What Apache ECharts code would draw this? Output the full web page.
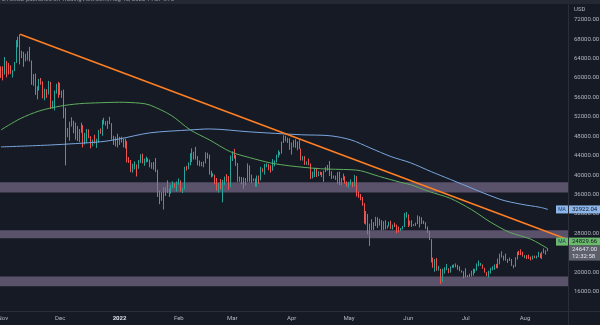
<!DOCTYPE html>
<html>
<head>
<meta charset="utf-8">
<script src="https://cdn.jsdelivr.net/npm/echarts/dist/echarts.min.js"></script>
<style>
html, body { margin: 0; padding: 0; background: #161a25; }
#c { width: 600px; height: 325px; }
</style>
</head>
<body>
<div id="c"></div>
<script>
// Daily BTC/USD candles: each row is [close, low, high]; open is the prior close.
const firstOpen = 61850;
const oct21 = [[61300, 60000, 62400]];
const nov21 = [
  [61000,59500,62400],[63200,60700,64300],[62900,60100,63500],[61400,60700,63100],[61000,60800,62600],
  [61500,60100,61600],[63300,61400,63300],[67500,63100,67800],[66900,66300,68500],[64900,62800,69000],
  [64800,64100,65600],[64150,62300,65400],[64400,63400,65000],[65500,63600,65500],[63600,63400,66400],
  [60100,58600,63600],[60350,58400,60800],[56900,56500,60900],[58100,55600,58300],[59700,57400,59800],
  [58700,58600,60000],[56300,55800,59300],[57550,55400,57800],[57150,55900,57700],[58950,56600,59400],
  [53700,53600,59200],[54750,53700,55300],[57300,53300,57400],[57800,56800,58800],[56950,55900,59200]
];
const dec21 = [
  [57200,56500,59000],[56500,55900,57400],[53600,51700,57600],[49200,42000,53900],[49400,47800,49700],
  [50600,47100,51000],[50600,50000,51900],[50500,48600,51200],[47600,47300,50800],[47150,47000,50100],
  [49400,46800,49500],[50100,48700,50800],[46700,45700,50300],[48400,46300,48700],[48900,46600,49500],
  [47650,47600,49400],[46200,45500,48000],[46900,45900,47300],[46700,46500,48300],[46900,45600,47500],
  [49000,46700,49300],[48600,48500,49600],[50800,48100,51400],[50400,50400,51800],[50800,50200,51100],
  [50700,49500,51200],[50700,50500,52000],[47500,47300,50700],[46450,46200,48100],[47150,45900,47900],
  [46200,45700,48500]
];
const jan22 = [
  [47700,46200,47900],[47300,46700,47900],[46450,45700,47500],[45800,45500,47500],[43400,42600,47000],
  [43100,42500,43700],[41550,40600,43100],[41700,40500,42300],[41850,41200,42800],[41800,39700,42200],
  [42750,41300,43100],[43900,42500,44300],[42600,42400,44400],[43100,41900,43400],[43100,42600,43800],
  [43100,42700,43500],[42200,41600,43200],[42350,41300,42600],[41700,41100,42700],[40700,40600,43500],
  [36450,35500,41100],[35050,34000,36800],[36250,34700,36500],[36650,32900,37500],[36950,35700,37500],
  [36850,36300,38900],[37150,35500,37200],[37750,36200,38000],[38150,37300,38700],[37900,37400,38300],
  [38500,36600,38700]
];
const feb22 = [
  [38700,38000,39300],[36900,36600,38900],[37300,36300,37400],[41550,37000,41700],[41400,40900,41900],
  [42400,41200,42600],[43850,42000,44500],[44100,42700,45500],[44350,43200,44800],[43550,43200,45800],
  [42400,42000,43900],[42200,41800,43000],[42050,41800,42700],[42550,41600,42800],[44550,42400,44700],
  [43900,43400,44600],[40550,40100,44200],[40000,39500,40900],[40100,39700,40400],[38400,38100,40100],
  [37050,36800,39400],[38250,36400,38400],[37250,37100,39200],[38350,34400,39000],[39200,38000,39700],
  [39100,38600,40200],[37700,37000,39800],[43200,37500,44000]
];
const mar22 = [
  [44400,42900,44900],[43950,43400,45400],[42450,41900,44100],[39150,38600,42500],[39400,38600,39700],
  [38400,38100,39600],[37990,37200,39500],[38730,37900,39400],[41950,38600,42400],[39450,38600,42000],
  [38800,38300,40100],[38800,38700,39300],[37800,37600,39300],[39650,37600,39900],[39300,38200,39900],
  [41150,38900,41700],[40950,40600,41400],[41800,40100,42300],[42200,41600,42400],[41300,41000,42300],
  [41050,40500,42000],[42350,40900,43300],[42900,41800,43000],[44000,42600,44200],[44350,43600,45100],
  [44550,44100,44800],[46850,44400,46900],[47100,46600,48200],[47450,46900,48100],[47100,46600,47700],
  [45550,45200,47600]
];
const apr22 = [
  [46300,44200,46700],[45800,45700,47200],[46450,45600,47400],[46600,45100,46900],[45500,45400,47200],
  [43200,43000,45500],[43450,43000,43900],[42300,42100,43900],[42800,42100,42800],[42150,42000,43400],
  [39550,39200,42400],[40100,39300,40700],[41150,39600,41500],[39950,39600,41500],[40550,39800,40800],
  [40400,40000,40700],[39700,39600,40600],[40800,38600,40900],[41500,40600,41700],[41350,40900,42100],
  [40500,39800,42900],[39700,39200,40800],[39450,39300,39900],[39450,39000,39900],[40450,38200,40600],
  [38100,37900,40700],[39250,37900,39400],[39750,38900,40300],[38600,38200,39400],[37650,37600,38700]
];
const may22 = [
  [38450,37400,38600],[38500,38000,39100],[37700,37500,38600],[39700,37700,40000],[36550,35600,39800],
  [36000,35300,36600],[35450,34800,36100],[34050,33700,35500],[30100,30000,34200],[31000,29800,32600],
  [28950,27800,32000],[28950,25400,30000],[29250,28700,30900],[30100,28700,30300],[31300,29500,31400],
  [29850,29100,31300],[30450,29600,31000],[28700,28600,30700],[30300,28700,30500],[29200,28800,30700],
  [29450,29000,29600],[30300,29400,30400],[29100,28900,30600],[29650,28800,29800],[29550,29300,30200],
  [29200,28000,29800],[28600,28200,29400],[29000,28500,29100],[29450,28800,29500],[31700,29300,32200],
  [31800,31200,32400]
];
const jun22 = [
  [29800,29300,31900],[30450,29600,30600],[29700,29300,30700],[29850,29500,29900],[29900,29500,30200],
  [31350,29900,31700],[31150,29200,31500],[30200,29900,31300],[30100,29900,30600],[29100,28900,30300],
  [28400,28100,29400],[26600,26600,28500],[22500,22000,26800],[22150,20900,23000],[22600,20100,22700],
  [20400,20300,22900],[20550,20300,21300],[18950,17600,20700],[20550,18000,20700],[20550,19700,21000],
  [20700,20400,21700],[19950,19800,20800],[21100,19900,21200],[21250,20900,21500],[21500,20900,21600],
  [21050,21000,21800],[20750,20500,21500],[20280,20200,21200],[20100,19900,20400],[19950,18700,20200]
];
const jul22 = [
  [19300,18900,20800],[19250,19000,19400],[19300,19000,19700],[20200,19100,20300],[20200,19300,20700],
  [20550,19800,20700],[21600,20300,21800],[21600,21200,22400],[21600,21300,21900],[20850,20700,21600],
  [19950,19900,20900],[19300,19200,20000],[20200,18900,20300],[20600,19700,20900],[20850,20400,21200],
  [21200,20500,21600],[20800,20800,21700],[22450,20800,22800],[23400,21600,23800],[23250,23000,24300],
  [23150,22400,23400],[22700,22400,23800],[22450,21900,22700],[22600,22300,23000],[21300,21300,22700],
  [21250,20800,21500],[22950,21100,23100],[23850,22600,24200],[23800,23500,24400],[23650,23500,24700],
  [23300,23200,24200]
];
const aug22 = [
  [23300,22900,23500],[22950,22700,23500],[22800,22700,23600],[22600,22400,23200],[23300,22600,23400],
  [22950,22900,23400],[23200,22800,23400],[23800,23100,24200],[23150,22900,23900],[23950,22700,24200],
  [23950,23900,24900],[24400,23600,24500],[24647,24300,24850]
];

// Month blocks: [year-month, first day in block, rows]
const monthBlocks = [
  ['2021-10', 31, oct21], ['2021-11', 1, nov21], ['2021-12', 1, dec21],
  ['2022-01', 1, jan22], ['2022-02', 1, feb22], ['2022-03', 1, mar22],
  ['2022-04', 1, apr22], ['2022-05', 1, may22], ['2022-06', 1, jun22],
  ['2022-07', 1, jul22], ['2022-08', 1, aug22]
];
// Empty days on the right edge of the time scale
const futureDays = ['2022-08-14','2022-08-15','2022-08-16','2022-08-17','2022-08-18',
  '2022-08-19','2022-08-20','2022-08-21','2022-08-22','2022-08-23'];

// Moving averages (100-day green, 200-day blue), sampled along the curve
const maFast = [
  ['2021-10-31',49300],['2021-11-10',51600],['2021-11-20',53200],['2021-12-01',54200],
  ['2021-12-11',54700],['2021-12-22',54900],['2022-01-01',55000],['2022-01-12',54800],
  ['2022-01-17',54400],['2022-01-28',52300],['2022-02-07',49300],['2022-02-17',47250],
  ['2022-02-28',44800],['2022-03-10',43600],['2022-03-21',42500],['2022-03-31',41900],
  ['2022-04-16',41300],['2022-05-02',41100],['2022-05-07',40900],['2022-05-17',39700],
  ['2022-05-28',38500],['2022-06-02',38050],['2022-06-12',36600],['2022-06-23',35200],
  ['2022-07-04',32900],['2022-07-14',30300],['2022-07-24',28200],['2022-08-04',26800],
  ['2022-08-13',24829.66]
];
const maSlow = [
  ['2021-10-31',45800],['2021-11-26',46200],['2021-12-22',46850],['2022-01-01',47450],
  ['2022-01-17',48700],['2022-02-07',49300],['2022-02-17',49500],['2022-03-10',48900],
  ['2022-04-06',48300],['2022-04-21',48100],['2022-05-02',47250],['2022-05-12',45600],
  ['2022-05-23',43800],['2022-06-02',42550],['2022-06-13',40700],['2022-06-23',39100],
  ['2022-07-19',35000],['2022-07-30',34000],['2022-08-09',33350],['2022-08-13',32922.04]
];
// Descending trendline from the November high
const trendLine = [['2021-11-10', 69000], ['2022-08-23', 26800]];
// Horizontal support / resistance zones [bottom, top]
const zones = [[36400, 38500], [27000, 28650], [17100, 19100]];
const lastPrice = 24647;
const countdown = '12:32:58';
const monthNames = ['Jan','Feb','Mar','Apr','May','Jun','Jul','Aug','Sep','Oct','Nov','Dec'];

const dates = [];
const candles = [];
let prevClose = firstOpen;
monthBlocks.forEach(([ym, startDay, rows]) => {
  rows.forEach((r, i) => {
    dates.push(ym + '-' + String(startDay + i).padStart(2, '0'));
    const [c, lo, hi] = r;
    const o = prevClose;
    candles.push([o, c, Math.min(lo, o, c), Math.max(hi, o, c)]);
    prevClose = c;
  });
});
const categories = dates.concat(futureDays);

const FONT = 'Roboto, "Liberation Sans", sans-serif';
const AXIS_X = 568;
const chart = echarts.init(document.getElementById('c'));

chart.setOption({
  backgroundColor: '#161a25',
  animation: false,
  grid: { left: 0, right: 600 - AXIS_X, top: 10, bottom: 14, outerBoundsMode: 'none', containLabel: false },
  xAxis: {
    type: 'category',
    data: categories,
    boundaryGap: true,
    axisLine: { show: false },
    axisTick: { show: false },
    splitLine: { show: false },
    axisLabel: {
      interval: (i, v) => v.endsWith('-01'),
      formatter: v => {
        const p = v.split('-');
        return p[1] === '01' ? '{yr|' + p[0] + '}' : monthNames[+p[1] - 1];
      },
      color: '#b2b5be', fontSize: 6, fontFamily: FONT, margin: 4,
      rich: { yr: { color: '#e0e3eb', fontWeight: 'bold', fontSize: 6, fontFamily: FONT } }
    }
  },
  yAxis: {
    type: 'value',
    position: 'right',
    min: 12000, max: 74000, interval: 4000,
    axisLine: { show: false },
    axisTick: { show: false },
    splitLine: { show: false },
    axisLabel: {
      formatter: v => (v <= 12000 || v >= 74000) ? '' : v.toFixed(2),
      color: '#b2b5be', fontSize: 6, fontFamily: FONT, margin: 6, align: 'left'
    }
  },
  series: [
    {
      name: 'zones', type: 'line', data: [], z: 1, silent: true,
      markArea: {
        silent: true,
        itemStyle: { color: '#5a516b' },
        data: zones.map(([a, b]) => [{ yAxis: a }, { yAxis: b }])
      }
    },
    {
      name: 'BTCUSD', type: 'candlestick', data: candles, z: 3,
      barWidth: '60%',
      itemStyle: {
        color: '#26a69a', color0: '#ef5350',
        borderColor: '#26a69a', borderColor0: '#ef5350', borderWidth: 1
      }
    },
    {
      name: 'MA 100', type: 'line', data: maFast, z: 4, symbol: 'none',
      smooth: 0.3, lineStyle: { color: '#5fae5f', width: 1 }
    },
    {
      name: 'MA 200', type: 'line', data: maSlow, z: 4, symbol: 'none',
      smooth: 0.3, lineStyle: { color: '#79a6de', width: 1 }
    },
    {
      name: 'trend', type: 'line', data: trendLine, z: 5, symbol: 'none',
      lineStyle: { color: '#ff7f24', width: 1.6 }
    }
  ]
});

// Price scale tags, positioned from their values
const yOf = v => chart.convertToPixel({ yAxisIndex: 0 }, v);
const slowLast = maSlow[maSlow.length - 1][1];
const fastLast = maFast[maFast.length - 1][1];
const yPrice = yOf(lastPrice);
const ySlow = yOf(slowLast);
const yFast = Math.min(yOf(fastLast), yPrice - 8);

function tag(y, name, value, bg) {
  const els = [
    { type: 'rect', shape: { x: AXIS_X + 1, y: y - 4, width: 32, height: 8 }, style: { fill: bg }, z: 100 },
    { type: 'text', x: AXIS_X + 4, y: y, style: { text: value, fill: '#131722', font: '6px ' + FONT, textVerticalAlign: 'middle' }, z: 101 }
  ];
  if (name) {
    els.push({ type: 'rect', shape: { x: AXIS_X - 12, y: y - 4, width: 12, height: 8 }, style: { fill: bg }, z: 100 });
    els.push({ type: 'text', x: AXIS_X - 6, y: y, style: { text: name, fill: '#1d3b66', font: '5px ' + FONT, textAlign: 'center', textVerticalAlign: 'middle' }, z: 101 });
  }
  return els;
}

const graphics = [
  { type: 'rect', shape: { x: 0, y: 0, width: 600, height: 4 }, style: { fill: '#242833' }, z: 90 },
  { type: 'text', x: 2, y: 2, style: { text: 'BTCUSD published on TradingView.com, Aug 13, 2022 11:27 UTC', fill: '#9598a1', font: '6px ' + FONT, textVerticalAlign: 'bottom' }, z: 91 },
  { type: 'line', shape: { x1: AXIS_X + 0.5, y1: 4, x2: AXIS_X + 0.5, y2: 325 }, style: { stroke: '#2a2e39', lineWidth: 1 }, z: 90 },
  { type: 'line', shape: { x1: 0, y1: 311.5, x2: 600, y2: 311.5 }, style: { stroke: '#2a2e39', lineWidth: 1 }, z: 90 },
  { type: 'text', x: AXIS_X + 6, y: 9, style: { text: 'USD', fill: '#b2b5be', font: '6px ' + FONT, textVerticalAlign: 'middle' }, z: 91 }
];
graphics.push(...tag(ySlow, 'MA', slowLast.toFixed(2), '#8db6ea'));
graphics.push(...tag(yFast, 'MA', fastLast.toFixed(2), '#6cbb6c'));
graphics.push(
  { type: 'rect', shape: { x: AXIS_X + 1, y: yPrice - 4, width: 32, height: 15 }, style: { fill: '#5d606b' }, z: 100 },
  { type: 'text', x: AXIS_X + 4, y: yPrice, style: { text: lastPrice.toFixed(2), fill: '#e0e3eb', font: '6px ' + FONT, textVerticalAlign: 'middle' }, z: 101 },
  { type: 'text', x: AXIS_X + 4, y: yPrice + 7, style: { text: countdown, fill: '#e0e3eb', font: '6px ' + FONT, textVerticalAlign: 'middle' }, z: 101 }
);
chart.setOption({ graphic: graphics });
</script>
</body>
</html>
